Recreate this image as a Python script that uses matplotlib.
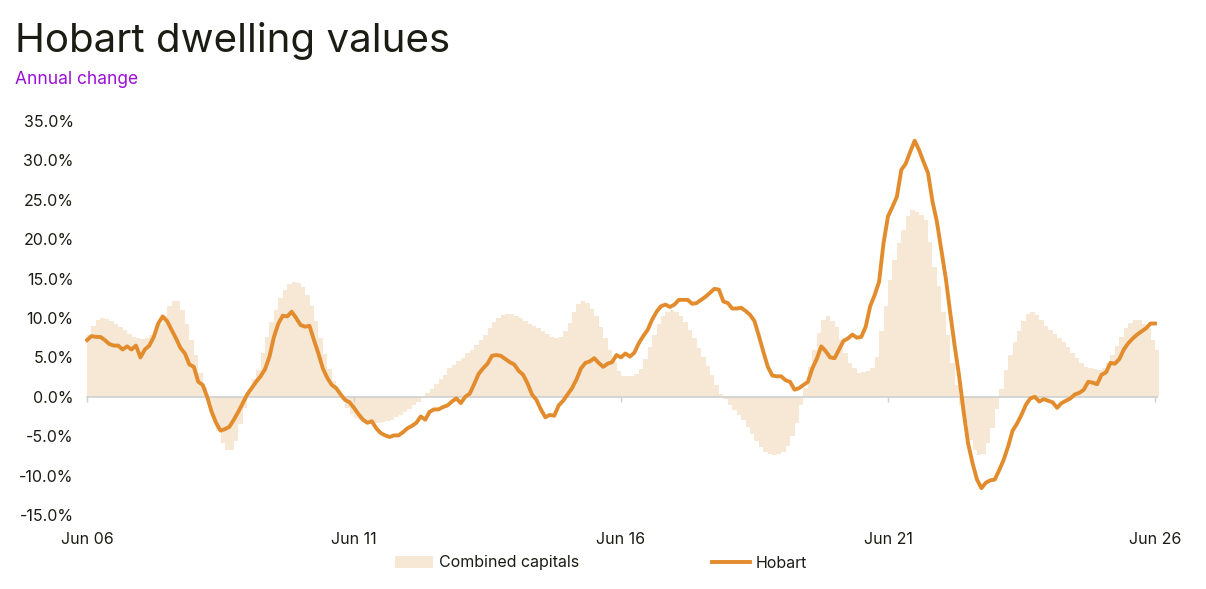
import matplotlib.pyplot as plt
import numpy as np

# Annual change (%), monthly from Jun 06 to Jun 26
combined_capitals = [
    7.8, 9.0, 9.8, 10.0, 9.9, 9.6, 9.3, 8.9, 8.5, 8.0,
    7.6, 7.4, 7.3, 7.5, 7.8, 8.3, 9.2, 10.3, 11.5, 12.2,
    12.2, 11.0, 9.2, 7.2, 5.3, 3.0, 1.2, -0.8, -2.8, -4.4,
    -5.9, -6.8, -6.8, -5.6, -3.4, -1.4, 0.5, 2.2, 3.4, 5.5,
    7.6, 9.5, 11.0, 12.5, 13.6, 14.3, 14.6, 14.5, 13.9, 12.9,
    11.5, 9.6, 7.5, 5.4, 3.5, 2.0, 0.8, -0.4, -1.4, -2.2,
    -2.7, -3.0, -3.2, -3.3, -3.3, -3.3, -3.2, -3.1, -2.9, -2.6,
    -2.3, -1.9, -1.5, -1.0, -0.6, -0.1, 0.5, 1.0, 1.6, 2.2,
    2.8, 3.6, 4.0, 4.5, 4.9, 5.5, 6.0, 6.6, 7.2, 7.9,
    8.7, 9.5, 10.0, 10.4, 10.5, 10.5, 10.3, 10.0, 9.6, 9.3,
    9.0, 8.7, 8.3, 8.0, 7.6, 7.4, 7.6, 8.3, 9.4, 10.8,
    11.8, 12.2, 11.9, 11.2, 10.2, 8.8, 7.4, 5.9, 4.4, 3.3,
    2.6, 2.6, 2.6, 2.9, 3.5, 4.8, 6.3, 7.9, 9.2, 10.2,
    10.8, 11.0, 10.8, 10.3, 9.5, 8.5, 7.4, 6.2, 5.0, 3.9,
    2.8, 1.5, 0.4, -0.3, -1.0, -1.7, -2.3, -3.0, -3.8, -4.7,
    -5.6, -6.4, -7.0, -7.3, -7.4, -7.3, -7.0, -6.2, -5.0, -3.3,
    -1.0, 1.1, 3.8, 6.0, 8.1, 9.8, 10.2, 9.6, 8.9, 7.2,
    5.5, 4.3, 3.6, 3.0, 3.2, 3.3, 3.6, 5.1, 8.3, 11.5,
    14.8, 17.4, 19.5, 21.2, 22.9, 23.7, 23.5, 23.1, 22.4, 19.7,
    16.5, 14.0, 10.8, 7.9, 4.3, 1.5, -1.0, -3.3, -5.5, -6.7,
    -7.4, -7.2, -5.9, -4.0, -1.6, 1.0, 3.4, 5.3, 7.0, 8.3,
    9.6, 10.5, 10.7, 10.4, 9.8, 9.0, 8.5, 8.0, 7.4, 6.9,
    6.3, 5.6, 4.9, 4.3, 3.8, 3.6, 3.5, 3.4, 3.6, 4.3,
    5.3, 6.4, 7.6, 8.7, 9.4, 9.7, 9.7, 9.3, 8.7, 7.2,
    6.0,
]

hobart = [
    7.2, 7.7, 7.6, 7.6, 7.2, 6.7, 6.5, 6.5, 6.0, 6.4,
    6.0, 6.5, 5.0, 6.0, 6.5, 7.6, 9.3, 10.2, 9.6, 8.5,
    7.4, 6.2, 5.5, 4.1, 3.8, 1.9, 1.5, 0.0, -1.9, -3.3,
    -4.3, -4.1, -3.8, -2.9, -1.9, -0.8, 0.3, 1.1, 1.9, 2.6,
    3.5, 5.1, 7.6, 9.3, 10.3, 10.2, 10.8, 10.0, 9.1, 8.9,
    9.0, 7.2, 5.5, 3.6, 2.4, 1.5, 1.1, 0.3, -0.4, -0.7,
    -1.4, -2.2, -2.9, -3.3, -3.1, -4.0, -4.6, -4.9, -5.1, -4.9,
    -4.9, -4.5, -4.0, -3.7, -3.3, -2.5, -2.9, -1.9, -1.6, -1.6,
    -1.3, -1.1, -0.6, -0.2, -0.8, 0.0, 0.4, 1.6, 2.9, 3.6,
    4.2, 5.2, 5.3, 5.2, 4.8, 4.4, 4.1, 3.3, 2.8, 1.7,
    0.3, -0.4, -1.6, -2.6, -2.3, -2.4, -1.1, -0.5, 0.3, 1.1,
    2.2, 3.6, 4.3, 4.5, 4.9, 4.3, 3.8, 4.2, 4.4, 5.3,
    5.0, 5.5, 5.1, 5.6, 6.8, 7.7, 8.5, 9.8, 10.8, 11.5,
    11.7, 11.4, 11.7, 12.3, 12.3, 12.3, 11.8, 11.9, 12.3, 12.7,
    13.2, 13.7, 13.6, 12.1, 11.9, 11.2, 11.2, 11.3, 10.9, 10.4,
    9.6, 7.7, 5.7, 3.8, 2.7, 2.6, 2.6, 2.1, 1.9, 0.9,
    1.1, 1.5, 1.9, 3.6, 4.8, 6.4, 5.8, 5.0, 4.9, 6.0,
    7.1, 7.4, 7.9, 7.5, 7.6, 8.9, 11.5, 12.9, 14.6, 19.5,
    22.9, 24.1, 25.4, 28.8, 29.6, 31.1, 32.5, 31.3, 29.8, 28.4,
    24.8, 22.2, 18.6, 15.0, 10.6, 6.4, 2.6, -1.9, -5.9, -8.4,
    -10.5, -11.6, -10.9, -10.6, -10.5, -9.3, -8.0, -6.3, -4.3, -3.4,
    -2.3, -1.0, -0.2, 0.0, -0.6, -0.3, -0.5, -0.7, -1.4, -0.8,
    -0.5, -0.2, 0.3, 0.5, 0.9, 1.9, 1.8, 1.6, 2.8, 3.1,
    4.3, 4.2, 4.8, 6.0, 6.8, 7.4, 7.9, 8.3, 8.7, 9.3,
    9.3,
]

tick_labels = ["Jun 06", "Jun 11", "Jun 16", "Jun 21", "Jun 26"]
y_ticks = [-15, -10, -5, 0, 5, 10, 15, 20, 25, 30, 35]

BAR_COLOR = "#f6e8d5"
LINE_COLOR = "#e38c2d"
TEXT_COLOR = "#1c1c14"

plt.rcParams['font.family'] = ['Inter', 'DejaVu Sans']

months = np.arange(len(hobart))
tick_pos = months[::60]

fig = plt.figure(figsize=(12.06, 5.89), dpi=100)
# axes placed so that index 0 sits at x=87px and 35%/-15% at y=121/515px
ax = fig.add_axes([84.8 / 1206, 1 - 515 / 589, (1160.3 - 84.8) / 1206, (515 - 121) / 589])

bars = ax.bar(months, combined_capitals, width=1.0, align='edge', color=BAR_COLOR,
              linewidth=0, label="Combined capitals", zorder=1)
ax.axhline(0, color="#cfcfcf", linewidth=1.2, zorder=2,
           xmin=0.5 / 241.7, xmax=241 / 241.7)
ax.vlines(tick_pos, -0.7, 0, color="#cfcfcf", linewidth=1.0, zorder=2)
line, = ax.plot(months, hobart, color=LINE_COLOR, linewidth=2.8, label="Hobart",
                solid_joinstyle='round', zorder=3)

ax.set_xlim(-0.5, 241.2)
ax.set_ylim(-15, 35)
ax.set_xticks(tick_pos)
ax.set_xticklabels(tick_labels)
ax.set_yticks(y_ticks)
ax.set_yticklabels([f"{v:.1f}%" for v in y_ticks])
ax.tick_params(axis='both', length=0, labelsize=11.5, colors=TEXT_COLOR)
ax.tick_params(axis='y', pad=8)
ax.tick_params(axis='x', pad=12)
for s in ax.spines.values():
    s.set_visible(False)

fig.text(15 / 1206, 1 - 52 / 589, "Hobart dwelling values", fontsize=29,
         color=TEXT_COLOR, va='baseline', ha='left')
fig.text(15 / 1206, 1 - 84 / 589, "Annual change", fontsize=12.5,
         color="#9b0fd6", va='baseline', ha='left')

fig.legend([bars, line], ["Combined capitals", "Hobart"], loc='center',
           bbox_to_anchor=(601 / 1206, 1 - 563 / 589), ncol=2,
           frameon=False, fontsize=11.5, handlelength=2.4, handleheight=0.7,
           handletextpad=0.35, columnspacing=8.3, labelcolor=TEXT_COLOR)

plt.savefig("out.png", dpi=100)
